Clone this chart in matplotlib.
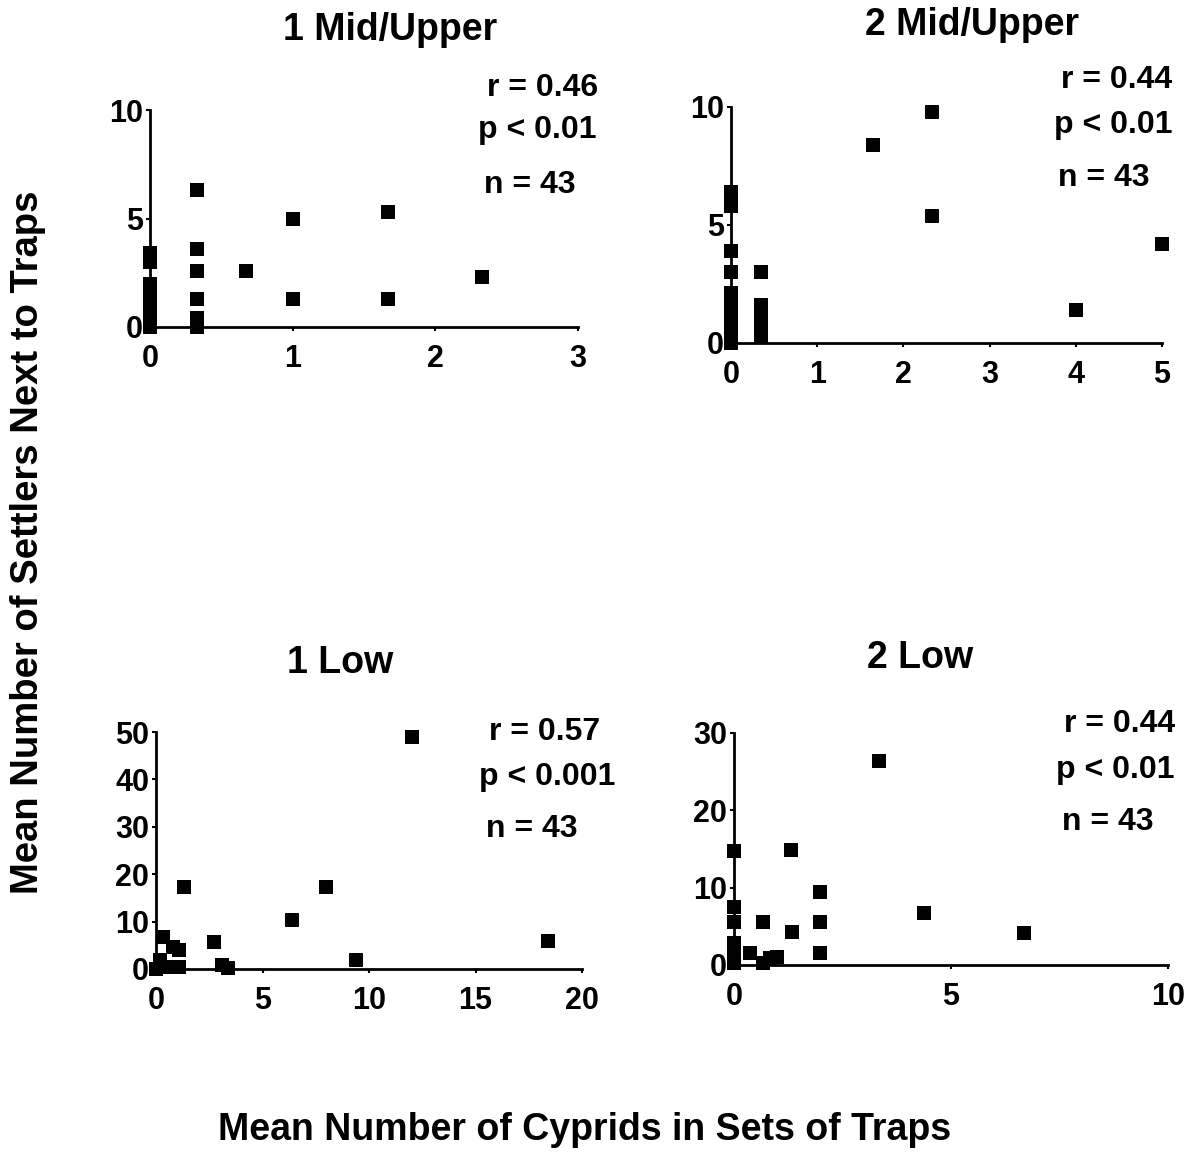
import matplotlib
matplotlib.use("Agg")
import matplotlib.pyplot as plt
from matplotlib import font_manager

# condensed bold face if available
names = {f.name for f in font_manager.fontManager.ttflist}
fam = ['Liberation Sans Narrow'] if 'Liberation Sans Narrow' in names else []
plt.rcParams['font.family'] = fam + ['Liberation Sans', 'DejaVu Sans']
plt.rcParams['font.weight'] = 'bold'

# 1 Mid/Upper
mu1_x = [0, 0, 0, 0, 0, 0, 0, 0, 0, 0.33, 0.33, 0.33, 0.33, 0.33, 0.33, 0.67, 1.0, 1.0, 1.67, 1.67, 2.33]
mu1_y = [3.4, 3.0, 2.0, 1.7, 1.3, 1.0, 0.7, 0.3, 0, 6.3, 3.6, 2.6, 1.3, 0.4, 0, 2.6, 5.0, 1.3, 5.3, 1.3, 2.3]

# 2 Mid/Upper
mu2_x = [0, 0, 0, 0, 0, 0, 0, 0, 0, 0, 0, 0.35, 0.35, 0.35, 0.35, 0.35, 1.65, 2.33, 2.33, 4.0, 5.0]
mu2_y = [6.4, 5.8, 3.9, 3.0, 2.1, 1.7, 1.3, 1.0, 0.6, 0.2, 0, 3.0, 1.6, 1.0, 0.6, 0.3, 8.4, 9.8, 5.4, 1.4, 4.2]

# 1 Low
lo1_x = [0, 0.2, 0.35, 0.4, 0.8, 1.1, 1.1, 1.3, 2.7, 3.1, 3.4, 6.4, 8.0, 9.4, 12.0, 18.4]
lo1_y = [0, 1.9, 6.8, 0.4, 4.6, 4.0, 0.4, 17.3, 5.7, 0.8, 0.2, 10.3, 17.3, 1.9, 49, 5.9]

# 2 Low
lo2_x = [0, 0, 0, 0, 0, 0, 0.37, 0.67, 0.67, 0.83, 1.0, 1.31, 1.33, 1.98, 1.98, 1.98, 3.33, 4.37, 6.69]
lo2_y = [14.7, 7.5, 5.6, 2.9, 1.0, 0.3, 1.5, 5.5, 0.2, 0.9, 1.0, 14.9, 4.3, 9.4, 5.5, 1.5, 26.4, 6.7, 4.2]

W, H = 1195, 1153
fig = plt.figure(figsize=(W / 100, H / 100), dpi=100)


def px(x0, y0, x1, y1):
    return [x0 / W, 1 - y1 / H, (x1 - x0) / W, (y1 - y0) / H]


panels = [
    dict(rect=px(150, 110, 578, 327), x=mu1_x, y=mu1_y, xlim=3, ylim=10,
         xt=[0, 1, 2, 3], yt=[0, 5, 10], title='1 Mid/Upper', tpos=(390, 30),
         stats=[('r = 0.46', 598, 88), ('p < 0.01', 597, 130), ('n = 43', 576, 185)]),
    dict(rect=px(731, 107, 1162, 343), x=mu2_x, y=mu2_y, xlim=5, ylim=10,
         xt=[0, 1, 2, 3, 4, 5], yt=[0, 5, 10], title='2 Mid/Upper', tpos=(972, 25),
         stats=[('r = 0.44', 1172, 80), ('p < 0.01', 1172, 125), ('n = 43', 1150, 178)]),
    dict(rect=px(156, 732, 582, 969), x=lo1_x, y=lo1_y, xlim=20, ylim=50,
         xt=[0, 5, 10, 15, 20], yt=[0, 10, 20, 30, 40, 50], title='1 Low', tpos=(340, 663),
         stats=[('r = 0.57', 600, 732), ('p < 0.001', 615, 777), ('n = 43', 578, 829)]),
    dict(rect=px(734, 733, 1168, 965), x=lo2_x, y=lo2_y, xlim=10, ylim=30,
         xt=[0, 5, 10], yt=[0, 10, 20, 30], title='2 Low', tpos=(920, 658),
         stats=[('r = 0.44', 1175, 724), ('p < 0.01', 1175, 770), ('n = 43', 1153, 822)]),
]

for p in panels:
    ax = fig.add_axes(p['rect'])
    ax.scatter(p['x'], p['y'], marker='s', s=110, color='black', linewidths=0,
               clip_on=False, zorder=3)
    ax.set_xlim(0, p['xlim'])
    ax.set_ylim(0, p['ylim'])
    ax.set_xticks(p['xt'])
    ax.set_yticks(p['yt'])
    for s in ['top', 'right']:
        ax.spines[s].set_visible(False)
    for s in ['left', 'bottom']:
        ax.spines[s].set_linewidth(2)
    ax.tick_params(length=3, width=1.5, labelsize=22)
    ax.tick_params(axis='x', pad=9)
    ax.tick_params(axis='y', pad=2)
    fig.text(p['tpos'][0] / W, 1 - p['tpos'][1] / H, p['title'], fontsize=27,
             ha='center', va='center')
    for txt, tx, ty in p['stats']:
        fig.text(tx / W, 1 - ty / H, txt, fontsize=23, ha='right', va='center')

fig.text(28 / W, 1 - 542 / H, 'Mean Number of Settlers Next to Traps', fontsize=27.5,
         rotation=90, ha='center', va='center')
fig.text(585 / W, 1 - 1130 / H, 'Mean Number of Cyprids in Sets of Traps', fontsize=27,
         ha='center', va='center')

fig.savefig('out.png', dpi=100)
